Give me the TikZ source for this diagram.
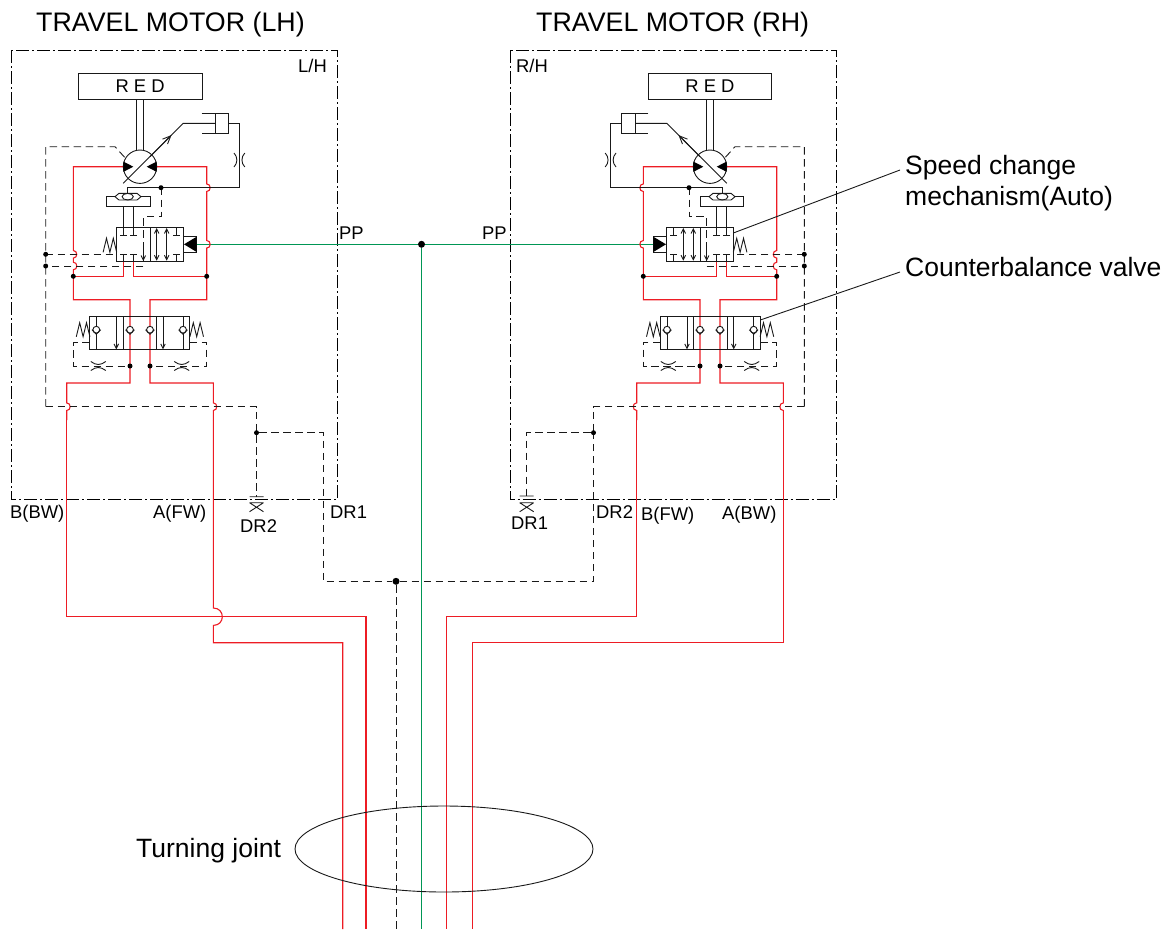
\documentclass[tikz,border=0pt]{standalone}
\usepackage{fontspec}
\setmainfont{Liberation Sans}
\usetikzlibrary{shapes.geometric,arrows.meta}
\definecolor{oilred}{RGB}{237,28,36}
\definecolor{pilotgreen}{RGB}{0,150,85}
\tikzset{
	>={Straight Barb[length=4.5pt,width=4.5pt]},
	thin line/.style={line width=0.9pt,black!90},
	oil/.style={line width=1.1pt,oilred},
	drain/.style={line width=0.9pt,black!90,dash pattern=on 7.5pt off 4.5pt},
	pilot/.style={line width=1pt,pilotgreen},
	framed/.style={line width=0.9pt,black,dash pattern=on 13pt off 3pt on 2pt off 3pt},
	jdot/.style={circle,fill=black,inner sep=0pt,minimum size=5pt},
	bigdot/.style={circle,fill=black,inner sep=0pt,minimum size=7pt},
	titlelabel/.style={font=\fontsize{26.8}{31}\selectfont,inner sep=0pt,anchor=base west},
	biglabel/.style={font=\fontsize{26.5}{31}\selectfont,inner sep=0pt,anchor=base west},
	smalllabel/.style={font=\fontsize{18.4}{22}\selectfont,inner sep=0pt,anchor=base west}
}
\newcommand{\hopx}[2]{-- (#1,#2-3.8) .. controls (#1+4.6,#2-3.8) and (#1+4.6,#2+3.8) .. (#1,#2+3.8)}
\newcommand{\tbar}[3]{\draw[thin line] (#1-3.3,#2) -- (#1+3.3,#2) (#1,#2) -- (#1,#3);}
\newcommand{\horifice}[2]{\draw[thin line] (#1-7.5,#2-4.5) .. controls (#1-2,#2-0.5) and (#1+2,#2-0.5) .. (#1+7.5,#2-4.5) (#1-7.5,#2+4.5) .. controls (#1-2,#2+0.5) and (#1+2,#2+0.5) .. (#1+7.5,#2+4.5);}
\newcommand{\checkv}[2]{\draw[thin line,fill=white] (#1,#2) circle[radius=3.4]; \draw[thin line] (#1-4.4,#2) -- (#1,#2+4.6) -- (#1+4.4,#2);}
\newcommand{\springz}[2]{\draw[thin line] (#1,#2+7) -- (#1+3.4,#2-7) -- (#1+6.8,#2+7) -- (#1+10.2,#2-7) -- (#1+13.6,#2+7);}
\newcommand{\motorunit}[1]{
	\node[draw,thin line,minimum width=123.7pt,minimum height=25.6pt,inner sep=0pt] (#1red) at (140.1,86.5) {};
	\node[smalllabel,anchor=center,text=black] (#1redtext) at (140.1,86.5) {R E D};
	\draw[thin line] (136.7,99.3) -- (136.7,150) (143.3,99.3) -- (143.3,150);
	\draw[oil] (123.3,261) -- (123.3,276.3) -- (73.3,276.3);
	\draw[oil] (133.3,261) -- (133.3,276.3) -- (206.7,276.3);
	\draw[oil] (123.3,166.7) -- (73.3,166.7) \hopx{73.3}{254.3} \hopx{73.3}{266} -- (73.3,299.7) -- (130,299.7) -- (130,383) -- (66.7,383) \hopx{66.7}{406.7} -- (66.7,420) coordinate (#1o);
	\draw[oil] (156.7,166.7) -- (206.7,166.7) \hopx{206.7}{187.7} \hopx{206.7}{244.3} -- (206.7,299.7) -- (150,299.7) -- (150,383) -- (213.3,383) \hopx{213.3}{406.7} -- (213.3,420) coordinate (#1i);
	\draw[thin line] (140,166.7) circle[radius=16.7];
	\fill[black] (123.3,161.5) -- (133.3,166.7) -- (123.3,171.9) -- cycle;
	\fill[black] (156.7,161.5) -- (146.7,166.7) -- (156.7,171.9) -- cycle;
	\draw[thin line] (123.3,183.3) -- (183.3,123.3) -- (215,123.3);
	\draw[thin line,->,>={Straight Barb[length=8pt,width=7pt]}] (150,156.7) -- (171.5,135.1);
	\draw[thin line] (201.7,113.3) -- (228.3,113.3) -- (228.3,133.3) -- (201.7,133.3) (215,113.3) -- (215,133.3);
	\draw[thin line] (228.3,123.3) -- (239.3,123.3) -- (239.3,187.7) -- (127.7,187.7) -- (127.7,193.4);
	\draw[thin line] (234,153) .. controls (237.8,157) and (237.8,163) .. (234,167) (244.8,153) .. controls (241,157) and (241,163) .. (244.8,167);
	\draw[drain] (45.7,406.7) -- (45.7,146.7) -- (115,146.7) -- (125,157.7);
	\draw[drain] (45.7,406.7) -- (256.5,406.7) -- (256.5,432.7);
	\draw[drain] (161,187.7) -- (161,216.7) -- (143.3,216.7) -- (143.3,266) -- (45.7,266);
	\draw[drain] (45.7,254.3) -- (116.7,254.3);
	\node[jdot] (#1dota) at (161,187.7) {};
	\node[jdot] (#1dotb) at (45.7,254.3) {};
	\node[jdot] (#1dotc) at (45.7,266) {};
	\node[jdot] (#1dotd) at (73.3,276.3) {};
	\node[jdot] (#1dote) at (206.7,276.3) {};
	\draw[thin line] (115,196.7) -- (119,193.3) -- (137,193.3) -- (141,196.7) -- (137,200) -- (119,200) -- cycle;
	\draw[thin line] (127.7,196.7) circle[x radius=5.6,y radius=3.3];
	\draw[thin line] (115,196.7) -- (106.3,196.7) -- (106.3,206.7) -- (150,206.7) -- (150,196.7) -- (141,196.7);
	\draw[thin line] (123.3,206.7) -- (123.3,235) (133.3,206.7) -- (133.3,235);
	\draw[thin line] (116.7,227.7) rectangle (183.3,261);
	\draw[thin line] (150,227.7) -- (150,261);
	\draw[thin line] (120,235) -- (126.6,235) (130,235) -- (136.6,235) (173.4,235) -- (180,235) (176.7,227.7) -- (176.7,235);
	\tbar{123.3}{254.3}{261}
	\tbar{133.3}{254.3}{261}
	\tbar{176.7}{254.3}{261}
	\draw[thin line,<->] (156.7,228) -- (156.7,260.7);
	\draw[thin line,<->] (166.7,228) -- (166.7,260.7);
	\draw[thin line,->] (143.3,250) -- (143.3,261);
	\springz{103.1}{245.3}
	\draw[thin line] (183.3,236.7) -- (196.7,236.7) -- (196.7,252) -- (183.3,252);
	\fill[black] (184,244.3) -- (196.7,236.7) -- (196.7,252) -- cycle;
	\draw[thin line] (89.7,316.3) rectangle (189.7,349.7);
	\foreach \vx in {96.3,123,156.3,183} {\draw[thin line] (\vx,316.3) -- (\vx,349.7);}
	\draw[thin line,->] (116.3,316.3) -- (116.3,349.4);
	\draw[thin line,->] (163,316.3) -- (163,349.4);
	\checkv{96.3}{329.7}
	\checkv{130}{329.7}
	\checkv{150}{329.7}
	\checkv{183}{329.7}
	\springz{76.3}{329.7}
	\springz{189.9}{329.7}
	\draw[drain] (89.7,342.7) -- (73.3,342.7) -- (73.3,366) -- (130,366);
	\draw[drain] (189.7,342.7) -- (206.7,342.7) -- (206.7,366) -- (150,366);
	\horifice{98.3}{366}
	\horifice{181.7}{366}
	\node[jdot] (#1dotf) at (130,366) {};
	\node[jdot] (#1dotg) at (150,366) {};
}
\begin{document}
\begin{tikzpicture}[x=1pt,y=-1pt]
	\useasboundingbox (0,0) rectangle (1169,929);
	\draw[framed] (11.3,50) rectangle (337.3,499.3);
	\draw[framed] (510,50) rectangle (836.5,499.3);
	\draw[pilot] (196.7,244.3) -- (653.3,244.3);
	\motorunit{lh}
	\begin{scope}[xshift=850pt,xscale=-1]
		\motorunit{rh}
	\end{scope}
	\node[bigdot] (pilotdot) at (421.5,244.3) {};
	\draw[pilot] (pilotdot) -- (421.5,929);
	\draw[oil] (lho) -- (66.7,616.7) -- (366,616.7) -- (366,929);
	\draw[oil] (lhi) -- (213.3,608) .. controls (225.3,608) and (225.3,625.4) .. (213.3,625.4) -- (213.3,642.7) -- (342.7,642.7) -- (342.7,929);
	\draw[oil] (rhi) -- (636.7,616.7) -- (446.7,616.7) -- (446.7,929);
	\draw[oil] (rho) -- (783.3,642.7) -- (472.7,642.7) -- (472.7,929);
	\node[jdot] (lhdrain) at (256.5,432.7) {};
	\node[jdot] (rhdrain) at (593.5,432.7) {};
	\node[bigdot] (draindot) at (396,581.3) {};
	\draw[drain] (lhdrain) -- (256.5,496.7);
	\draw[drain] (lhdrain) -- (323,432.7) -- (323,581.3) -- (draindot);
	\draw[drain] (draindot) -- (593.5,581.3) -- (rhdrain);
	\draw[drain] (rhdrain) -- (526.7,432.7) -- (526.7,496);
	\draw[drain] (draindot) -- (396,929);
	\draw[thin line] (249.5,496.7) -- (263.5,496.7) (249.5,502.7) -- (263.5,502.7) (249.5,502.7) -- (263.5,511.7) (263.5,502.7) -- (249.5,511.7);
	\draw[thin line] (519.7,496) -- (533.7,496) (519.7,502.7) -- (533.7,502.7) (519.7,502.7) -- (533.7,511.7) (533.7,502.7) -- (519.7,511.7);
	\node[draw,thin line,ellipse,minimum width=298pt,minimum height=86pt,inner sep=0pt] (joint) at (444,849) {};
	\coordinate (speedend) at (900,170);
	\coordinate (counterend) at (900,272);
	\draw[thin line] (733.3,233) -- (speedend);
	\draw[thin line] (760.3,320) -- (counterend);
	\node[titlelabel] (titlelh) at (36,31) {TRAVEL MOTOR (LH)};
	\node[titlelabel] (titlerh) at (536,31) {TRAVEL MOTOR (RH)};
	\node[biglabel] (speedlabel) at (905,174) {Speed change};
	\node[biglabel] (speedlabelb) at (905,205) {mechanism(Auto)};
	\node[biglabel] (counterlabel) at (905,276) {Counterbalance valve};
	\node[biglabel] (jointlabel) at (136,857) {Turning joint};
	\node[smalllabel] (lhtag) at (298,72) {L/H};
	\node[smalllabel] (rhtag) at (516,72) {R/H};
	\node[smalllabel] (pplh) at (339,239) {PP};
	\node[smalllabel] (pprh) at (482,239) {PP};
	\node[smalllabel] (bbw) at (10,518) {B(BW)};
	\node[smalllabel] (afw) at (153,518) {A(FW)};
	\node[smalllabel] (drtwolh) at (240,532) {DR2};
	\node[smalllabel] (dronelh) at (330,518) {DR1};
	\node[smalllabel] (dronerh) at (511,529) {DR1};
	\node[smalllabel] (drtworh) at (596,518) {DR2};
	\node[smalllabel] (bfw) at (641,520) {B(FW)};
	\node[smalllabel] (abw) at (722,519) {A(BW)};
\end{tikzpicture}
\end{document}
